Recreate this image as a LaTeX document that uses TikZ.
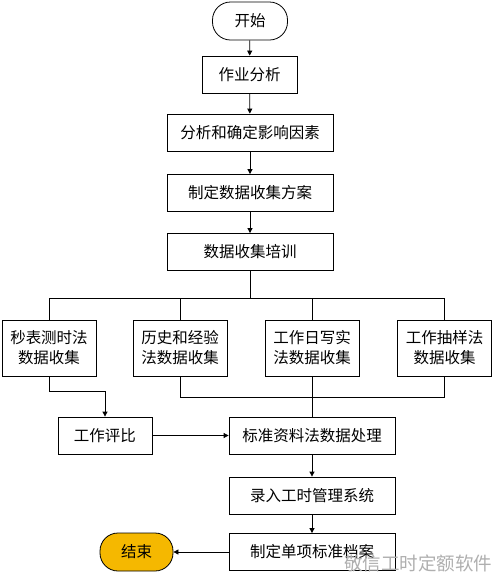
\documentclass[tikz,border=0pt]{standalone}
\usepackage{fontspec}
\setmainfont{Noto Sans CJK SC}
\usepackage{tikz}
\usetikzlibrary{arrows.meta, positioning, calc}
\definecolor{endorange}{RGB}{245,184,0}
\definecolor{wmgray}{RGB}{175,175,175}

\begin{document}
\begin{tikzpicture}[x=1pt, y=-1pt, line width=0.8pt,
  box/.style={draw, fill=white, minimum height=37pt, inner sep=0pt, font=\fontsize{15.5}{18}\selectfont},
  term/.style={box, rounded corners=18pt, minimum width=75pt, minimum height=38pt},
  tall/.style={box, minimum width=94pt, minimum height=56pt, align=center, font=\fontsize{15.5}{20}\selectfont},
  arr/.style={-{Triangle[length=5pt,width=5pt]}}]
  \useasboundingbox (0,0) rectangle (495,574);
  % main column
  \node[term] (start) at (250,21) {开始};
  \node[box, minimum width=95pt] (job) at (249.5,74.5) {作业分析};
  \node[box, minimum width=166pt] (factor) at (250,132.5) {分析和确定影响因素};
  \node[box, minimum width=166pt] (plan) at (250,193) {制定数据收集方案};
  \node[box, minimum width=166pt] (train) at (250,252) {数据收集培训};
  % four ways of collecting data
  \node[tall] (m1) at (49,348) {秒表测时法\\数据收集};
  \node[tall] (m2) at (180,348) {历史和经验\\法数据收集};
  \node[tall] (m3) at (312,348) {工作日写实\\法数据收集};
  \node[tall] (m4) at (444.5,348) {工作抽样法\\数据收集};
  % lower part
  \node[box, minimum width=94pt] (rate) at (105,435.5) {工作评比};
  \node[box, minimum width=166pt] (proc) at (312,435.5) {标准资料法数据处理};
  \node[box, minimum width=166pt] (entry) at (312,495.5) {录入工时管理系统};
  \node[box, minimum width=166pt] (file) at (312,552) {制定单项标准档案};
  \node[term, fill=endorange, minimum width=73pt] (finish) at (136.5,552) {结束};
  \coordinate (busT) at (250,298);
  \coordinate (busB) at (250,397);

  \draw[arr] (start) -- (job);
  \draw[arr] (job) -- (factor);
  \draw[arr] (factor) -- (plan);
  \draw[arr] (plan) -- (train);
  \draw (train) -- (busT);
  \draw (m1.north) -- (m1.north |- busT) -- (m4.north |- busT) -- (m4.north);
  \draw (m2.north) -- (m2.north |- busT);
  \draw (m3.north) -- (m3.north |- busT);
  \draw (m2.south) -- (m2.south |- busB) -- (m4.south |- busB) -- (m4.south);
  \draw (m3.south) -- (proc.north);
  \draw[arr] (m1.south) -- ++(0,15) -| (rate.north);
  \draw[arr] (rate) -- (proc);
  \draw[arr] (proc) -- (entry);
  \draw[arr] (entry) -- (file);
  \draw[arr] (file) -- (finish);
  \node[wmgray, font=\fontsize{18.5}{20}\selectfont, anchor=east] (mark) at (496,563) {敬信工时定额软件};
\end{tikzpicture}
\end{document}
